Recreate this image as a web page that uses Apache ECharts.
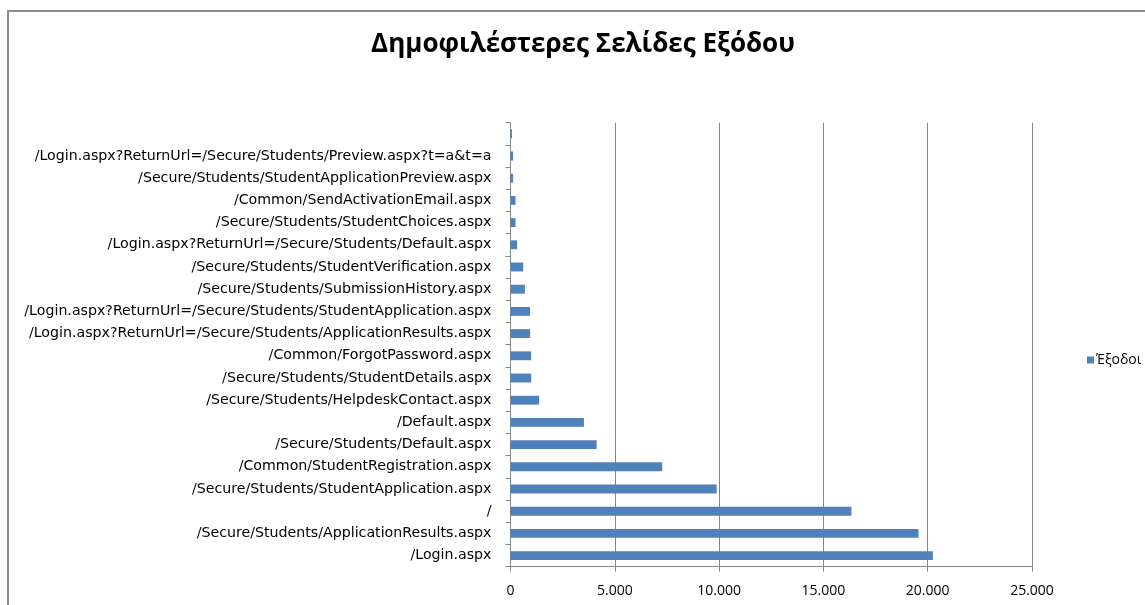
<!DOCTYPE html>
<html>
<head>
<meta charset="utf-8">
<script src="https://cdn.jsdelivr.net/npm/echarts@6/dist/echarts.min.js"></script>
<style>
html,body{margin:0;padding:0;background:#fff;overflow:hidden;}
#frame{position:absolute;left:7px;top:10px;width:2000px;height:2000px;border-top:2px solid #8c8c8c;border-left:2px solid #8c8c8c;box-sizing:border-box;}
#chart{position:absolute;left:0;top:0;width:1145px;height:605px;}
</style>
</head>
<body>
<div id="frame"></div>
<div id="chart"></div>
<script>
const titleText = "Δημοφιλέστερες Σελίδες Εξόδου";
const seriesName = "Έξοδοι";
// categories from bottom to top
const categories = [
  "/Login.aspx",
  "/Secure/Students/ApplicationResults.aspx",
  "/",
  "/Secure/Students/StudentApplication.aspx",
  "/Common/StudentRegistration.aspx",
  "/Secure/Students/Default.aspx",
  "/Default.aspx",
  "/Secure/Students/HelpdeskContact.aspx",
  "/Secure/Students/StudentDetails.aspx",
  "/Common/ForgotPassword.aspx",
  "/Login.aspx?ReturnUrl=/Secure/Students/ApplicationResults.aspx",
  "/Login.aspx?ReturnUrl=/Secure/Students/StudentApplication.aspx",
  "/Secure/Students/SubmissionHistory.aspx",
  "/Secure/Students/StudentVerification.aspx",
  "/Login.aspx?ReturnUrl=/Secure/Students/Default.aspx",
  "/Secure/Students/StudentChoices.aspx",
  "/Common/SendActivationEmail.aspx",
  "/Secure/Students/StudentApplicationPreview.aspx",
  "/Login.aspx?ReturnUrl=/Secure/Students/Preview.aspx?t=a&t=a",
  ""
];
const exits = [20250, 19560, 16345, 9885, 7275, 4130, 3520, 1375, 990, 990, 940, 940, 690, 610, 320, 240, 240, 125, 125, 70];
const xTicks = [0, 5000, 10000, 15000, 20000, 25000];

function fmt(v){ return String(v).replace(/\B(?=(\d{3})+(?!\d))/g, "."); }

const chart = echarts.init(document.getElementById('chart'), null, {renderer:'canvas'});
chart.setOption({
  animation:false,
  backgroundColor:'transparent',
  title:{
    text:titleText,
    left:578, top:27, textAlign:'center',
    textStyle:{fontFamily:'Open Sans', fontWeight:'bold', fontSize:26, color:'#000'}
  },
  legend:{
    data:[seriesName],
    orient:'vertical',
    left:1082, top:348,
    itemWidth:7, itemHeight:7, itemGap:4,
    icon:'rect',
    textStyle:{fontFamily:'Open Sans', fontSize:14, color:'#000', padding:[0,0,0,-3]}
  },
  grid:{left:510.5, right:113, top:122.7, bottom:38.3, containLabel:false},
  xAxis:{
    type:'value', min:xTicks[0], max:xTicks[xTicks.length-1], interval:5000,
    axisLine:{show:true, lineStyle:{color:'#868686', width:1}},
    axisTick:{show:true, length:5, lineStyle:{color:'#868686'}},
    splitLine:{show:true, lineStyle:{color:'#868686', width:1}},
    axisLabel:{margin:17, fontFamily:'Open Sans', fontSize:14, color:'#000', formatter:fmt}
  },
  yAxis:{
    type:'category', data:categories,
    axisLine:{show:true, lineStyle:{color:'#868686', width:1}},
    axisTick:{show:true, length:5, inside:false, lineStyle:{color:'#868686'}},
    axisLabel:{margin:19, interval:0, fontFamily:'DejaVu Sans', fontSize:14.2, color:'#000'}
  },
  series:[{
    name:seriesName, type:'bar', data:exits,
    barCategoryGap:'60%',
    itemStyle:{color:'#4F81BD'}
  }]
});
</script>
</body>
</html>
